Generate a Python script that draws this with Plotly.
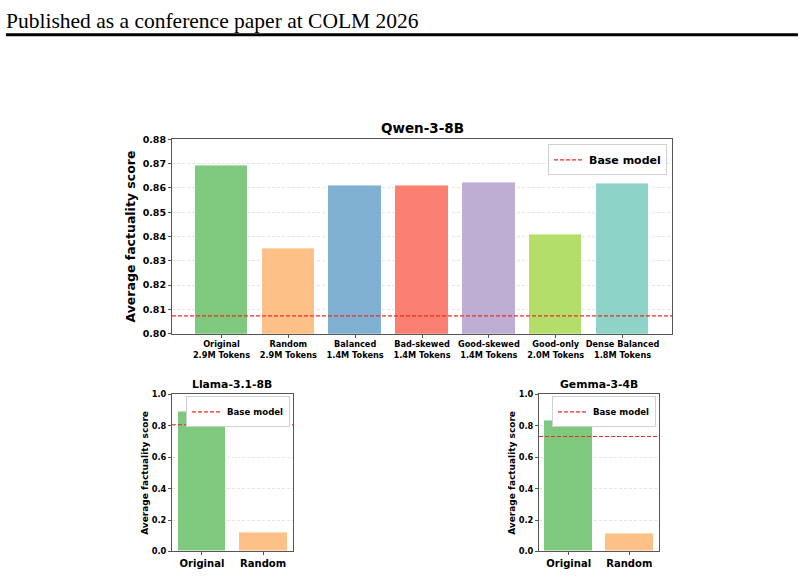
import plotly.graph_objects as go

# Qwen-3-8B panel
qwen_labels = ["Original<br>2.9M Tokens", "Random<br>2.9M Tokens", "Balanced<br>1.4M Tokens",
               "Bad-skewed<br>1.4M Tokens", "Good-skewed<br>1.4M Tokens", "Good-only<br>2.0M Tokens",
               "Dense Balanced<br>1.8M Tokens"]
qwen_scores = [0.8691, 0.8353, 0.8612, 0.8609, 0.8622, 0.8407, 0.8618]
qwen_base = 0.8073
qwen_ticks = [0.80, 0.81, 0.82, 0.83, 0.84, 0.85, 0.86, 0.87, 0.88]

# small panels
small_labels = ["Original", "Random"]
llama_scores = [0.890, 0.120]
llama_base = 0.807
gemma_scores = [0.836, 0.114]
gemma_base = 0.732
small_ticks = [0.0, 0.2, 0.4, 0.6, 0.8, 1.0]

bar_colors = ["#7fc97f", "#fdc086", "#80b1d3", "#fb8072", "#beaed4", "#b3de69", "#8dd3c7"]

W, H = 804, 577
FONT = "DejaVu Sans"
AX_COLOR = "#555555"
RED = "#ee2a2a"


def px_x(a, b):
    return [a / W, b / W]


def px_y(top, bottom):
    return [1 - bottom / H, 1 - top / H]


def bold(size):
    return dict(family=FONT, size=size, color="black", weight="bold")


fig = go.Figure()

panels = [
    # name, x-axis id, y-axis id, labels, scores, base, colors, x dom, y dom, legend
    ("Qwen-3-8B", "x", "y", qwen_labels, qwen_scores, qwen_base, bar_colors,
     px_x(172, 672), px_y(136, 334), "legend"),
    ("Llama-3.1-8B", "x2", "y2", small_labels, llama_scores, llama_base, bar_colors[:2],
     px_x(172, 293), px_y(396, 556), "legend2"),
    ("Gemma-3-4B", "x3", "y3", small_labels, gemma_scores, gemma_base, bar_colors[:2],
     px_x(539, 659), px_y(396, 556), "legend3"),
]

for i, (name, xa, ya, labels, scores, base, colors, xdom, ydom, leg) in enumerate(panels):
    n = len(labels)
    small = i > 0
    fig.add_trace(go.Bar(
        x=list(range(n)), y=scores, width=0.8, xaxis=xa, yaxis=ya,
        marker=dict(color=colors, line=dict(color="white", width=1)),
        showlegend=False, hoverinfo="skip",
    ))
    fig.add_trace(go.Scatter(
        x=[None], y=[None], mode="lines", name="Base model", xaxis=xa, yaxis=ya,
        line=dict(color=RED, width=1.2, dash="4px,2px"), legend=leg,
    ))
    fig.add_shape(type="line", xref=f"{xa} domain", yref=ya, x0=0, x1=1, y0=base, y1=base,
                  line=dict(color=RED, width=1.1, dash="4px,2px"))

    pad = (n - 1 + 0.8) * 0.05
    sfx = "" if i == 0 else str(i + 1)
    ticks = small_ticks if small else qwen_ticks
    fig.update_layout(**{
        f"xaxis{sfx}": dict(
            domain=xdom, anchor=ya, range=[-0.4 - pad, n - 0.6 + pad],
            tickmode="array", tickvals=list(range(n)), ticktext=labels, tickangle=0,
            tickfont=bold(10 if small else 8.2),
            showline=True, mirror=True, linecolor=AX_COLOR, linewidth=1,
            ticks="outside", ticklen=3, tickcolor=AX_COLOR, showgrid=False, zeroline=False,
        ),
        f"yaxis{sfx}": dict(
            domain=ydom, anchor=xa,
            range=[0, 1.0] if small else [0.80, 0.88],
            tickmode="array", tickvals=ticks,
            ticktext=[f"{v:.1f}" if small else f"{v:.2f}" for v in ticks],
            tickfont=bold(8.3 if small else 9.5),
            title=dict(text="Average factuality score", font=bold(9 if small else 12.5),
                       standoff=1 if small else 4),
            showline=True, mirror=True, linecolor=AX_COLOR, linewidth=1,
            ticks="outside", ticklen=3, tickcolor=AX_COLOR,
            showgrid=True, gridcolor="#e4e4e4", griddash="3px,2px", gridwidth=0.8, zeroline=False,
        ),
    })
    fig.add_annotation(
        text=name, xref="paper", yref="paper", x=sum(xdom) / 2, y=ydom[1],
        xanchor="center", yanchor="bottom", yshift=1, showarrow=False,
        font=bold(10.8 if small else 13.5),
    )

legend_common = dict(
    bgcolor="white", bordercolor="#d0d0d0", borderwidth=1,
    xanchor="right", yanchor="top", itemwidth=30,
)
fig.update_layout(
    width=W, height=H, margin=dict(l=0, r=0, t=0, b=0),
    paper_bgcolor="white", plot_bgcolor="white", bargap=0,
    legend=dict(x=667 / W, y=1 - 141 / H, font=bold(11), **legend_common),
    legend2=dict(x=290 / W, y=1 - 398 / H, font=bold(8.6), **legend_common),
    legend3=dict(x=656 / W, y=1 - 398 / H, font=bold(8.6), **legend_common),
)

# page header
fig.add_annotation(
    text="Published as a conference paper at COLM 2026", xref="paper", yref="paper",
    x=4 / W, y=1 - 1 / H, xanchor="left", yanchor="top", showarrow=False,
    font=dict(family="Liberation Serif", size=21.5, color="black"),
)
fig.add_shape(type="line", xref="paper", yref="paper", x0=6 / W, x1=798 / W,
              y0=1 - 29.3 / H, y1=1 - 29.3 / H, line=dict(color="black", width=3))

fig.write_html(
    "out.html",
    config={"displayModeBar": False},
    post_script=(
        "document.body.style.margin='0';document.body.style.overflow='hidden';"
        "var gd=document.getElementById('{plot_id}');"
        "gd.style.position='fixed';gd.style.top='0';gd.style.left='0';"
    ),
)
